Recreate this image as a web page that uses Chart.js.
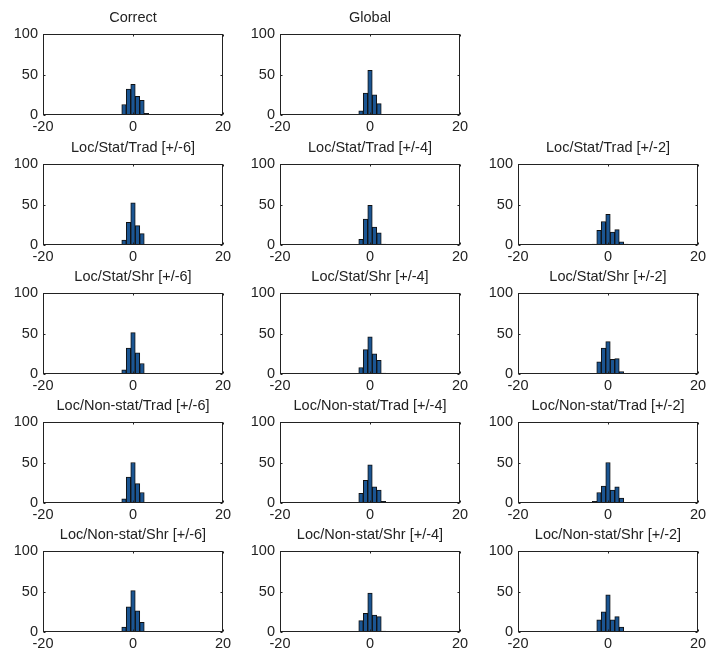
<!DOCTYPE html>
<html>
<head>
<meta charset="utf-8">
<script src="https://cdn.jsdelivr.net/npm/chart.js@4/dist/chart.umd.min.js"></script>
<style>
  html, body { margin: 0; padding: 0; background: #ffffff; }
  #page { position: relative; width: 707px; height: 657px; overflow: hidden; background: #ffffff; }
  #page canvas { position: absolute; }
</style>
</head>
<body>
<div id="page"></div>
<script>
// Histogram bin centres (error values) shared by every panel
const bins = [-3, -2, -1, 0, 1, 2, 3, 4];

// Counts per bin for each method
const correct      = [0, 13, 32, 38, 23, 18, 2, 0];
const global       = [0, 5, 27, 55, 25, 14, 0, 0];
const locStatTrad6 = [0.5, 6, 28, 52, 24, 14, 0.5, 0];
const locStatTrad4 = [0, 7, 32, 49, 22, 15, 1, 0];
const locStatTrad2 = [1, 18, 29, 38, 16, 19, 4, 1];
const locStatShr6  = [0, 5, 32, 51, 26, 13, 0, 0];
const locStatShr4  = [0, 8, 30, 46, 25, 17, 1, 0];
const locStatShr2  = [0, 15, 32, 40, 18, 19, 3, 0];
const locNsTrad6   = [0, 5, 32, 50, 24, 13, 0, 0];
const locNsTrad4   = [0, 12, 28, 47, 20, 16, 2, 0];
const locNsTrad2   = [2, 13, 21, 50, 16, 20, 6, 0];
const locNsShr6    = [0, 6, 31, 51, 26, 12, 0, 0];
const locNsShr4    = [0, 14, 23, 48, 21, 19, 1, 0];
const locNsShr2    = [0, 15, 25, 46, 15, 19, 6, 0];

// Axis limits and tick values
const xTicks = [-20, 0, 20];
const yTicks = [0, 50, 100];

// Panel titles, row by row (null = empty slot)
const titles = [
  ["Correct", "Global", null],
  ["Loc/Stat/Trad [+/-6]", "Loc/Stat/Trad [+/-4]", "Loc/Stat/Trad [+/-2]"],
  ["Loc/Stat/Shr [+/-6]", "Loc/Stat/Shr [+/-4]", "Loc/Stat/Shr [+/-2]"],
  ["Loc/Non-stat/Trad [+/-6]", "Loc/Non-stat/Trad [+/-4]", "Loc/Non-stat/Trad [+/-2]"],
  ["Loc/Non-stat/Shr [+/-6]", "Loc/Non-stat/Shr [+/-4]", "Loc/Non-stat/Shr [+/-2]"]
];
const series = [
  [correct, global, null],
  [locStatTrad6, locStatTrad4, locStatTrad2],
  [locStatShr6, locStatShr4, locStatShr2],
  [locNsTrad6, locNsTrad4, locNsTrad2],
  [locNsShr6, locNsShr4, locNsShr2]
];

// Grid geometry (plot-area boxes)
const colLeft = [43, 280, 518];
const rowTop = [34, 164, 293, 422, 551];
const PLOT_W = 180, PLOT_H = 81;
const Y_AXIS_W = 42, PAD_TOP = 30, X_AXIS_H = 24, PAD_RIGHT = 14;

const INK = '#222222';
const BAR_FILL = '#1b5592';
const BAR_EDGE = '#111111';
const FONT = 'Liberation Sans, Arial, Helvetica, sans-serif';
const FONT_SIZE = 14.5;

// Axes box with inward ticks plus the panel title
const boxPlugin = {
  id: 'matBox',
  afterDatasetsDraw(chart, args, opts) {
    const { ctx, chartArea: a, scales } = chart;
    ctx.save();
    ctx.strokeStyle = INK;
    ctx.lineWidth = 1;
    const L = Math.round(a.left) + 0.5, R = Math.round(a.right) - 0.5;
    const T = Math.round(a.top) + 0.5, B = Math.round(a.bottom) - 0.5;
    ctx.strokeRect(L, T, R - L, B - T);
    const tl = 2;
    ctx.beginPath();
    xTicks.forEach(v => {
      const px = Math.round(scales.x.getPixelForValue(v)) + 0.5;
      ctx.moveTo(px, T); ctx.lineTo(px, T + tl);
      ctx.moveTo(px, B); ctx.lineTo(px, B - tl);
    });
    yTicks.forEach(v => {
      const py = Math.round(scales.y.getPixelForValue(v)) + 0.5;
      ctx.moveTo(L, py); ctx.lineTo(L + tl, py);
      ctx.moveTo(R, py); ctx.lineTo(R - tl, py);
    });
    ctx.stroke();
    if (opts.text) {
      ctx.fillStyle = INK;
      ctx.font = FONT_SIZE + 'px ' + FONT;
      ctx.textAlign = 'center';
      ctx.textBaseline = 'alphabetic';
      ctx.fillText(opts.text, (a.left + a.right) / 2, a.top - 12);
    }
    ctx.restore();
  }
};

function makePanel(r, c) {
  const values = series[r][c];
  if (!values) return;
  const canvas = document.createElement('canvas');
  const w = Y_AXIS_W + PLOT_W + PAD_RIGHT;
  const h = PAD_TOP + PLOT_H + X_AXIS_H;
  canvas.width = w; canvas.height = h;
  canvas.style.width = w + 'px'; canvas.style.height = h + 'px';
  canvas.style.left = (colLeft[c] - Y_AXIS_W) + 'px';
  canvas.style.top = (rowTop[r] - PAD_TOP) + 'px';
  document.getElementById('page').appendChild(canvas);

  new Chart(canvas.getContext('2d'), {
    type: 'bar',
    data: {
      datasets: [{
        data: bins.map((b, i) => ({ x: b, y: values[i] })),
        backgroundColor: BAR_FILL,
        borderColor: BAR_EDGE,
        borderWidth: 1,
        barPercentage: 1,
        categoryPercentage: 1
      }]
    },
    options: {
      responsive: false,
      animation: false,
      devicePixelRatio: 1,
      layout: { padding: { top: PAD_TOP, right: PAD_RIGHT, left: 0, bottom: 0 } },
      plugins: {
        legend: { display: false },
        tooltip: { enabled: false },
        matBox: { text: titles[r][c] }
      },
      scales: {
        x: {
          type: 'linear', min: xTicks[0], max: xTicks[2], offset: false,
          grid: { display: false, drawTicks: false },
          border: { display: false },
          afterBuildTicks(s) { s.ticks = xTicks.map(v => ({ value: v })); },
          ticks: { color: INK, font: { size: FONT_SIZE, family: FONT }, padding: 3, maxRotation: 0, autoSkip: false },
          afterFit(s) { s.height = X_AXIS_H; }
        },
        y: {
          type: 'linear', min: yTicks[0], max: yTicks[2],
          grid: { display: false, drawTicks: false },
          border: { display: false },
          afterBuildTicks(s) { s.ticks = yTicks.map(v => ({ value: v })); },
          ticks: { color: INK, font: { size: FONT_SIZE, family: FONT }, padding: 5 },
          afterFit(s) { s.width = Y_AXIS_W; }
        }
      }
    },
    plugins: [boxPlugin]
  });
}

for (let r = 0; r < titles.length; r++) {
  for (let c = 0; c < 3; c++) makePanel(r, c);
}
</script>
</body>
</html>
